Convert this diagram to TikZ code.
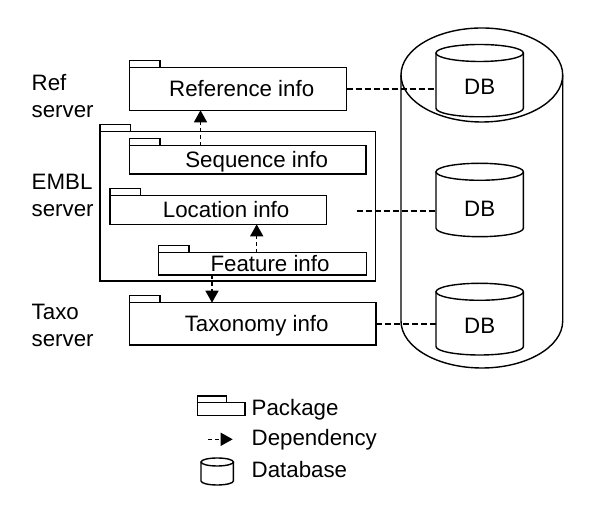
\documentclass[tikz,border=0pt]{standalone}
\usepackage{fontspec}
\setmainfont{Liberation Sans}
\usetikzlibrary{arrows.meta}
\newcommand\dbcyl[5]{%
  \draw (#1-#4,#2) -- (#1-#4,#3) arc[start angle=180,end angle=360,x radius=#4,y radius=#5] -- (#1+#4,#2);
  \draw (#1,#2) ellipse[x radius=#4,y radius=#5];}
\begin{document}
\begin{tikzpicture}[x=1pt,y=1pt,line width=1.4pt,
  font=\fontsize{22.3}{27}\selectfont,
  pkg/.style={draw,inner sep=0pt,outer sep=0pt,text height=16pt,text depth=0pt},
  txt/.style={inner sep=0pt,text height=16pt,text depth=0pt},
  lbl/.style={inner sep=0pt,align=left,anchor=north west},
  dep/.style={dash pattern=on 4pt off 3pt,-{Triangle[width=13pt,length=12pt]}},
  link/.style={dash pattern=on 6pt off 3pt}]
\useasboundingbox (0,0) rectangle (600,524);
% big cylinder
\dbcyl{481.85}{449}{203}{80.85}{47}
% packages
\node[pkg,minimum width=275.7pt,minimum height=149.3pt] (embl) at (237.85,317.65) {};
\node[pkg,minimum width=217.4pt,minimum height=42.6pt] (ref) at (238,435) {\hspace*{7.4pt}Reference info};
\node[pkg,minimum width=236.7pt,minimum height=28.3pt] (seq) at (247.65,364.15) {\hspace*{18pt}Sequence info};
\node[pkg,minimum width=216.3pt,minimum height=28.6pt] (loc) at (218.15,314) {\hspace*{16pt}Location info};
\node[pkg,minimum width=208.4pt,minimum height=22.3pt] (feat) at (262.5,260.15) {\hspace*{15pt}Feature info};
\node[pkg,minimum width=246.7pt,minimum height=42.3pt] (tax) at (252.65,200.15) {\hspace*{8pt}Taxonomy info};
\foreach \n in {ref,seq,embl,loc,feat,tax} \draw (\n.north west) rectangle ++(30.5,7);
% server labels
\node[lbl] (reflbl) at (31,450.4) {Ref\\server};
\node[lbl] (embllbl) at (31,351) {EMBL\\server};
\node[lbl] (taxolbl) at (31,221) {Taxo\\server};
% small databases
\dbcyl{479.7}{471}{415.7}{43.7}{8.5}
\dbcyl{479.7}{352.2}{295.8}{43.7}{8.5}
\dbcyl{479.7}{232.2}{177.5}{43.7}{8.5}
\node[txt] (db1) at (479.7,437.7) {DB};
\node[txt] (db2) at (479.7,315.3) {DB};
\node[txt] (db3) at (479.7,198) {DB};
\coordinate (db1w) at (436,435);
\coordinate (db2w) at (436,313);
\coordinate (db3w) at (436,200.15);
\coordinate (locend) at (356.7,313);
% dependencies
\coordinate (a1) at (200.5,0);
\coordinate (a2) at (256.7,0);
\coordinate (a3) at (212,0);
\draw[dep] (seq.north -| a1) -- (ref.south -| a1);
\draw[dep] (feat.north -| a2) -- (loc.south -| a2);
\draw[dep] (feat.south -| a3) -- (tax.north -| a3);
% links to databases
\draw[link] (ref.east) -- (db1w);
\draw[link] (locend) -- (db2w);
\draw[link] (tax.east) -- (db3w);
% legend
\draw (197.3,108.3) rectangle (245,121.7);
\draw (197.3,121.7) rectangle (226.7,128);
\node[txt,anchor=west] (lpkg) at (251,116.2) {Package};
\coordinate (ldepa) at (208.3,84.7);
\coordinate (ldepb) at (232.7,84.7);
\draw[dep] (ldepa) -- (ldepb);
\node[txt,anchor=west] (ldep) at (251,86.2) {Dependency};
\dbcyl{217.2}{62}{43}{16.2}{4}
\node[txt,anchor=west] (ldb) at (251,54.8) {Database};
\end{tikzpicture}
\end{document}
